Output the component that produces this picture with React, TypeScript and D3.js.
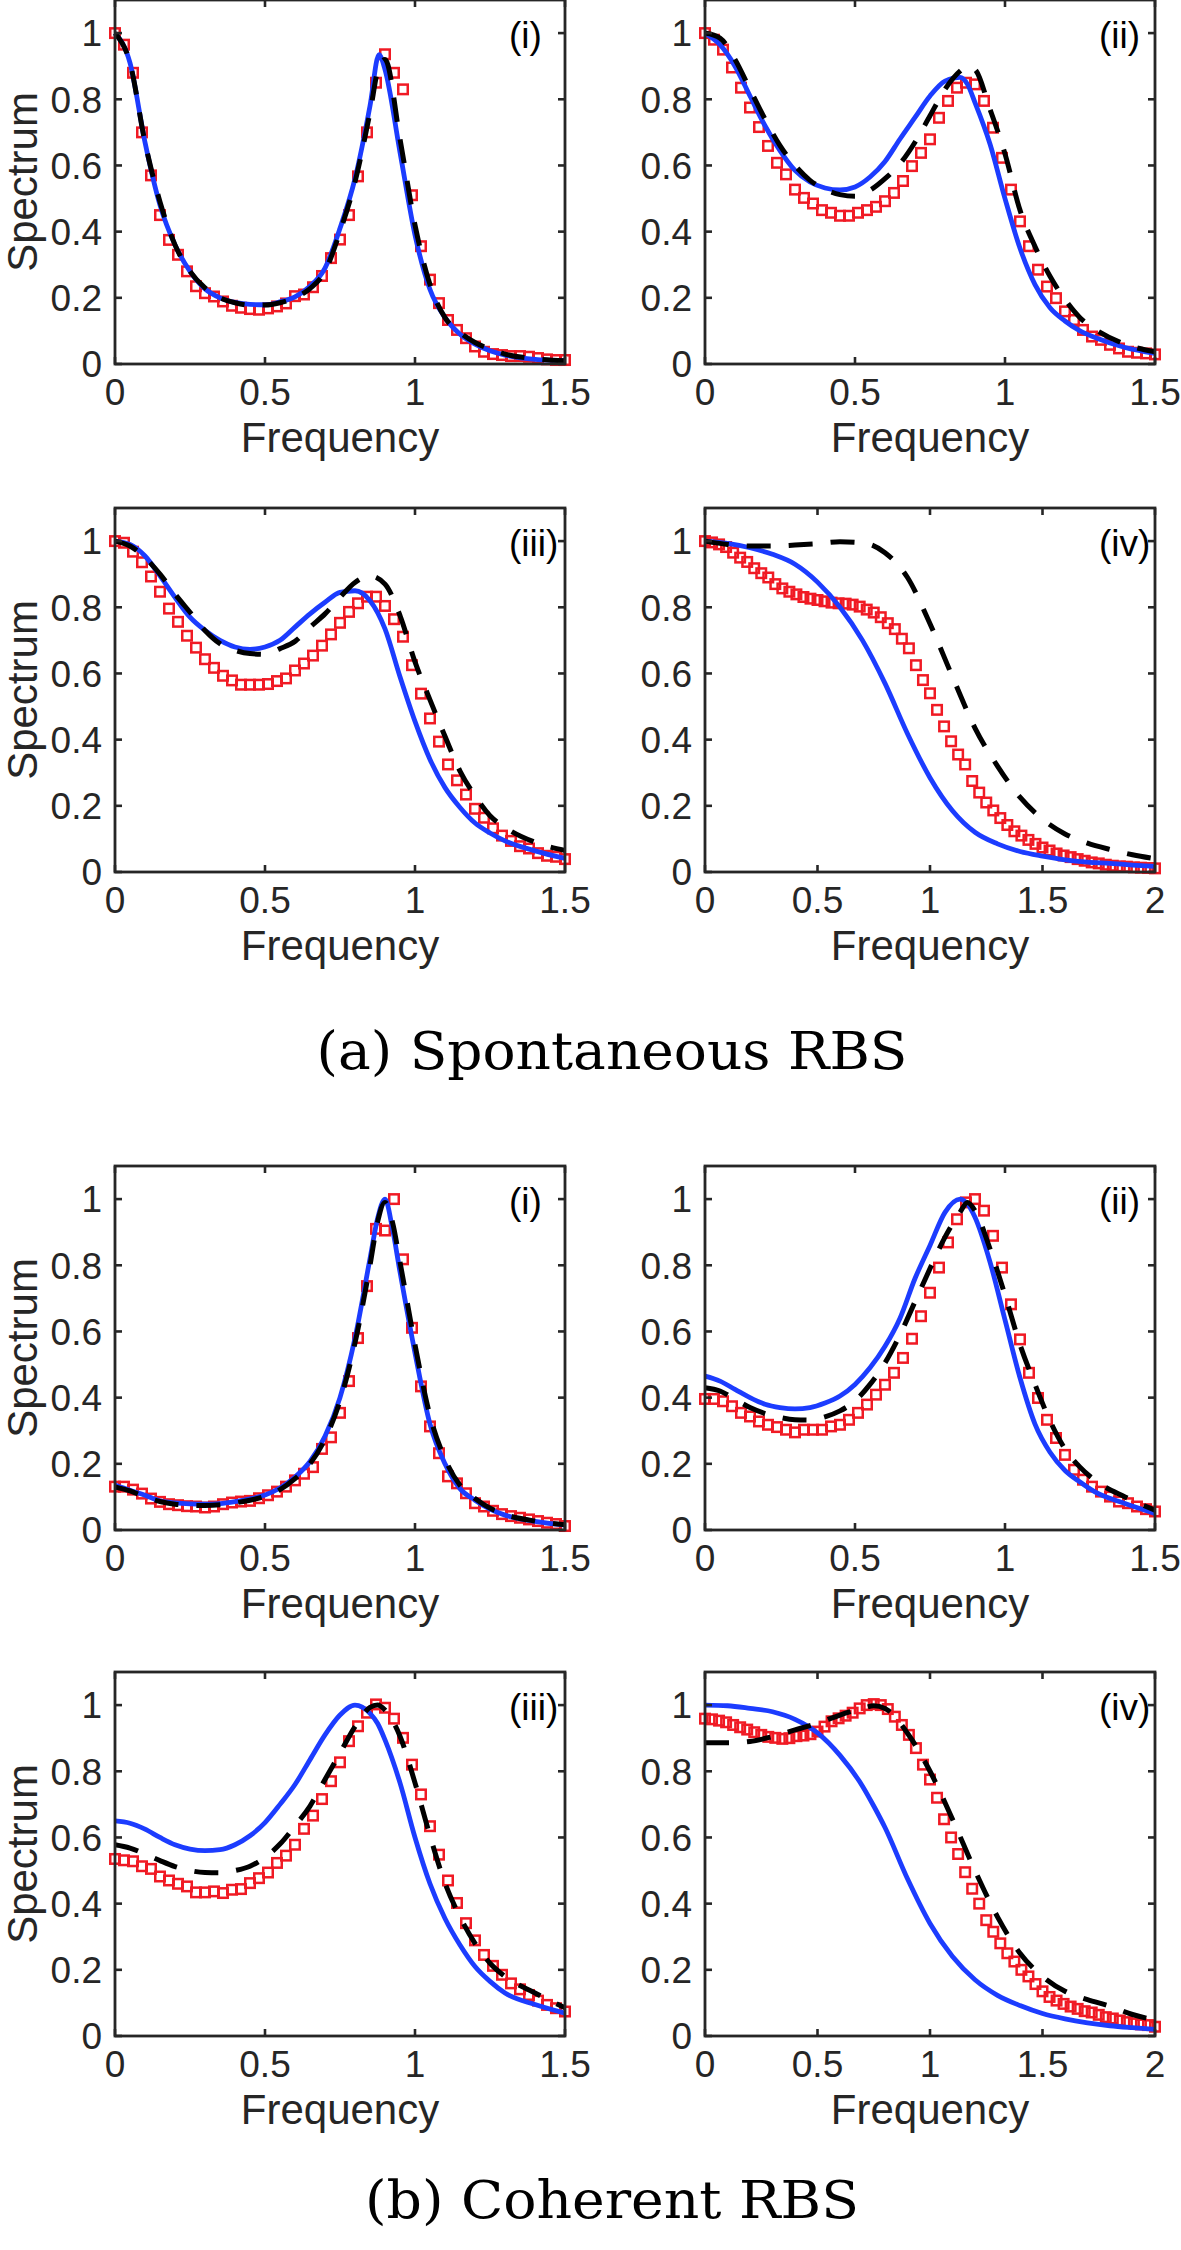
import React from 'react';
import * as d3 from 'd3';

// ---------- shared grids / ticks ----------
const squareFreq15 = d3.range(51).map((i) => +(i * 0.03).toFixed(2));
const squareFreq20 = d3.range(65).map((i) => i / 32);
const xTicks15 = [0, 0.5, 1, 1.5];
const xTicks20 = [0, 0.5, 1, 1.5, 2];
const yTicks = [0, 0.2, 0.4, 0.6, 0.8, 1];
const panelLabels = ['(i)', '(ii)', '(iii)', '(iv)'];
const captions = ['(a) Spontaneous RBS', '(b) Coherent RBS'];

// ---------- (a) Spontaneous RBS ----------
const freqA1 = [0, 0.05, 0.1, 0.15, 0.2, 0.25, 0.3, 0.35, 0.4, 0.45, 0.5, 0.55, 0.6, 0.65, 0.7, 0.75, 0.8, 0.85, 0.88, 0.9, 0.95, 1.0, 1.05, 1.1, 1.15, 1.2, 1.25, 1.3, 1.4, 1.5];
const blueA1 = [1.0, 0.91, 0.67, 0.48, 0.36, 0.28, 0.227, 0.2, 0.186, 0.18, 0.179, 0.188, 0.203, 0.235, 0.29, 0.41, 0.56, 0.78, 0.935, 0.89, 0.64, 0.39, 0.225, 0.14, 0.09, 0.06, 0.04, 0.027, 0.014, 0.01];
const blackA1 = [1.0, 0.91, 0.67, 0.49, 0.36, 0.28, 0.23, 0.2, 0.185, 0.178, 0.178, 0.185, 0.2, 0.228, 0.28, 0.4, 0.55, 0.76, 0.9, 0.92, 0.68, 0.42, 0.24, 0.14, 0.095, 0.065, 0.045, 0.03, 0.016, 0.01];
const redA1 = [1.0, 0.965, 0.88, 0.7, 0.57, 0.45, 0.375, 0.33, 0.28, 0.235, 0.214, 0.204, 0.189, 0.176, 0.17, 0.166, 0.164, 0.168, 0.174, 0.183, 0.205, 0.21, 0.232, 0.266, 0.32, 0.376, 0.45, 0.567, 0.7, 0.85, 0.936, 0.88, 0.83, 0.51, 0.356, 0.255, 0.184, 0.133, 0.103, 0.078, 0.053, 0.037, 0.03, 0.027, 0.024, 0.024, 0.022, 0.018, 0.014, 0.012, 0.012];

const freqA2 = [0, 0.05, 0.1, 0.15, 0.2, 0.25, 0.3, 0.35, 0.4, 0.45, 0.5, 0.55, 0.6, 0.65, 0.7, 0.75, 0.8, 0.85, 0.875, 0.9, 0.95, 1.0, 1.05, 1.1, 1.15, 1.2, 1.25, 1.3, 1.4, 1.5];
const blueA2 = [1.0, 0.965, 0.9, 0.81, 0.72, 0.645, 0.585, 0.55, 0.532, 0.526, 0.535, 0.565, 0.612, 0.68, 0.745, 0.81, 0.855, 0.866, 0.845, 0.79, 0.665, 0.5, 0.35, 0.24, 0.17, 0.13, 0.1, 0.08, 0.05, 0.032];
const blackA2 = [1.0, 0.985, 0.92, 0.83, 0.74, 0.66, 0.6, 0.555, 0.528, 0.512, 0.507, 0.525, 0.56, 0.605, 0.67, 0.75, 0.83, 0.885, 0.9, 0.89, 0.77, 0.635, 0.465, 0.355, 0.265, 0.195, 0.14, 0.105, 0.06, 0.037];
const redA2 = [1.0, 0.98, 0.95, 0.896, 0.835, 0.775, 0.716, 0.659, 0.608, 0.573, 0.527, 0.502, 0.485, 0.465, 0.457, 0.448, 0.448, 0.457, 0.465, 0.475, 0.492, 0.517, 0.553, 0.598, 0.638, 0.679, 0.744, 0.795, 0.835, 0.85, 0.845, 0.795, 0.714, 0.623, 0.527, 0.431, 0.356, 0.285, 0.234, 0.199, 0.159, 0.133, 0.103, 0.083, 0.073, 0.058, 0.047, 0.037, 0.034, 0.032, 0.029];

const freqA3 = [0, 0.05, 0.1, 0.15, 0.2, 0.25, 0.3, 0.35, 0.4, 0.45, 0.5, 0.55, 0.6, 0.65, 0.7, 0.75, 0.8, 0.85, 0.9, 0.95, 1.0, 1.05, 1.1, 1.15, 1.2, 1.25, 1.3, 1.4, 1.5];
const blueA3 = [1.0, 0.99, 0.955, 0.895, 0.83, 0.77, 0.73, 0.7, 0.68, 0.673, 0.68, 0.7, 0.74, 0.78, 0.815, 0.845, 0.85, 0.82, 0.735, 0.59, 0.455, 0.34, 0.255, 0.195, 0.148, 0.118, 0.094, 0.064, 0.041];
const blackA3 = [1.0, 0.985, 0.95, 0.9, 0.84, 0.785, 0.73, 0.69, 0.67, 0.66, 0.658, 0.675, 0.697, 0.74, 0.78, 0.83, 0.875, 0.895, 0.87, 0.775, 0.635, 0.52, 0.41, 0.305, 0.23, 0.17, 0.135, 0.09, 0.065];
const redA3 = [1.0, 0.995, 0.968, 0.936, 0.893, 0.847, 0.796, 0.756, 0.714, 0.678, 0.643, 0.617, 0.593, 0.579, 0.566, 0.566, 0.566, 0.568, 0.577, 0.585, 0.609, 0.63, 0.654, 0.684, 0.718, 0.753, 0.786, 0.812, 0.832, 0.832, 0.804, 0.764, 0.711, 0.625, 0.539, 0.464, 0.394, 0.325, 0.277, 0.234, 0.191, 0.164, 0.132, 0.11, 0.094, 0.078, 0.071, 0.057, 0.049, 0.046, 0.039];

const freqA4 = [0, 0.1, 0.2, 0.3, 0.4, 0.5, 0.6, 0.7, 0.8, 0.9, 1.0, 1.1, 1.2, 1.3, 1.4, 1.5, 1.6, 1.7, 1.8, 1.9, 2.0];
const blueA4 = [1.0, 0.993, 0.98, 0.96, 0.93, 0.876, 0.8, 0.7, 0.57, 0.418, 0.285, 0.185, 0.12, 0.085, 0.062, 0.048, 0.037, 0.03, 0.026, 0.021, 0.017];
const blackA4 = [1.0, 0.99, 0.985, 0.985, 0.988, 0.992, 0.998, 0.995, 0.965, 0.89, 0.75, 0.59, 0.435, 0.32, 0.226, 0.16, 0.115, 0.087, 0.068, 0.052, 0.04];
const redA4 = [1.0, 0.996, 0.99, 0.982, 0.965, 0.95, 0.937, 0.918, 0.903, 0.89, 0.87, 0.857, 0.847, 0.839, 0.831, 0.826, 0.822, 0.818, 0.814, 0.812, 0.811, 0.808, 0.802, 0.793, 0.784, 0.77, 0.752, 0.734, 0.705, 0.676, 0.625, 0.58, 0.54, 0.49, 0.44, 0.395, 0.355, 0.325, 0.275, 0.24, 0.21, 0.186, 0.163, 0.142, 0.123, 0.11, 0.097, 0.085, 0.074, 0.065, 0.056, 0.05, 0.045, 0.039, 0.034, 0.029, 0.026, 0.022, 0.019, 0.017, 0.016, 0.014, 0.013, 0.012, 0.011];

// ---------- (b) Coherent RBS ----------
const freqB1 = [0, 0.05, 0.1, 0.15, 0.2, 0.25, 0.3, 0.35, 0.4, 0.45, 0.5, 0.55, 0.6, 0.65, 0.7, 0.75, 0.8, 0.85, 0.875, 0.9, 0.925, 0.95, 1.0, 1.05, 1.1, 1.15, 1.2, 1.25, 1.3, 1.4, 1.5];
const blueB1 = [0.136, 0.12, 0.105, 0.088, 0.082, 0.079, 0.078, 0.08, 0.086, 0.094, 0.106, 0.127, 0.16, 0.207, 0.283, 0.4, 0.58, 0.82, 0.94, 1.0, 0.91, 0.78, 0.535, 0.32, 0.2, 0.125, 0.09, 0.063, 0.045, 0.026, 0.015];
const blackB1 = [0.13, 0.118, 0.1, 0.086, 0.078, 0.075, 0.074, 0.076, 0.082, 0.09, 0.102, 0.122, 0.155, 0.2, 0.275, 0.39, 0.565, 0.8, 0.93, 0.99, 0.93, 0.81, 0.56, 0.345, 0.215, 0.135, 0.095, 0.066, 0.047, 0.027, 0.016];
const redB1 = [0.131, 0.131, 0.122, 0.11, 0.095, 0.085, 0.078, 0.075, 0.072, 0.071, 0.068, 0.071, 0.078, 0.083, 0.086, 0.088, 0.096, 0.105, 0.116, 0.131, 0.15, 0.17, 0.19, 0.245, 0.28, 0.354, 0.45, 0.58, 0.737, 0.91, 0.905, 1.0, 0.818, 0.611, 0.434, 0.313, 0.232, 0.162, 0.141, 0.111, 0.081, 0.071, 0.058, 0.048, 0.042, 0.037, 0.032, 0.027, 0.022, 0.018, 0.012];

const freqB2 = [0, 0.05, 0.1, 0.15, 0.2, 0.25, 0.3, 0.35, 0.4, 0.45, 0.5, 0.55, 0.6, 0.65, 0.7, 0.75, 0.8, 0.85, 0.875, 0.9, 0.95, 1.0, 1.05, 1.1, 1.15, 1.2, 1.25, 1.3, 1.4, 1.5];
const blueB2 = [0.465, 0.45, 0.425, 0.4, 0.38, 0.37, 0.366, 0.37, 0.384, 0.405, 0.44, 0.49, 0.555, 0.64, 0.76, 0.86, 0.96, 1.0, 0.985, 0.945, 0.81, 0.635, 0.46, 0.32, 0.235, 0.18, 0.145, 0.115, 0.08, 0.05];
const blackB2 = [0.43, 0.42, 0.395, 0.37, 0.352, 0.34, 0.333, 0.332, 0.342, 0.36, 0.39, 0.44, 0.505, 0.59, 0.69, 0.79, 0.885, 0.96, 0.99, 0.965, 0.85, 0.71, 0.56, 0.44, 0.33, 0.245, 0.19, 0.15, 0.1, 0.06];
const redB2 = [0.396, 0.396, 0.389, 0.374, 0.354, 0.343, 0.328, 0.318, 0.311, 0.303, 0.295, 0.303, 0.303, 0.303, 0.313, 0.318, 0.333, 0.354, 0.379, 0.409, 0.439, 0.475, 0.52, 0.578, 0.646, 0.717, 0.793, 0.869, 0.939, 0.99, 1.0, 0.965, 0.889, 0.793, 0.682, 0.576, 0.475, 0.399, 0.333, 0.278, 0.227, 0.182, 0.152, 0.131, 0.116, 0.101, 0.086, 0.081, 0.071, 0.063, 0.056];

const freqB3 = [0, 0.05, 0.1, 0.15, 0.2, 0.25, 0.3, 0.35, 0.4, 0.45, 0.5, 0.55, 0.6, 0.65, 0.7, 0.75, 0.8, 0.85, 0.875, 0.9, 0.95, 1.0, 1.05, 1.1, 1.15, 1.2, 1.25, 1.3, 1.4, 1.5];
const blueB3 = [0.65, 0.643, 0.625, 0.6, 0.578, 0.565, 0.56, 0.563, 0.578, 0.605, 0.645, 0.7, 0.76, 0.835, 0.91, 0.97, 1.0, 0.975, 0.945, 0.895, 0.765, 0.6, 0.46, 0.355, 0.275, 0.21, 0.165, 0.13, 0.095, 0.069];
const blackB3 = [0.578, 0.568, 0.55, 0.53, 0.512, 0.5, 0.494, 0.493, 0.5, 0.513, 0.54, 0.58, 0.635, 0.695, 0.775, 0.855, 0.935, 0.993, 1.0, 0.985, 0.906, 0.765, 0.605, 0.462, 0.36, 0.28, 0.22, 0.18, 0.13, 0.085];
const redB3 = [0.535, 0.531, 0.528, 0.513, 0.505, 0.482, 0.47, 0.46, 0.452, 0.434, 0.434, 0.437, 0.432, 0.442, 0.444, 0.462, 0.477, 0.494, 0.523, 0.545, 0.578, 0.626, 0.666, 0.716, 0.77, 0.827, 0.891, 0.936, 0.977, 1.002, 0.992, 0.959, 0.901, 0.82, 0.73, 0.634, 0.548, 0.47, 0.402, 0.341, 0.289, 0.245, 0.212, 0.185, 0.159, 0.141, 0.124, 0.107, 0.094, 0.084, 0.074];

const freqB4 = [0, 0.1, 0.2, 0.3, 0.4, 0.5, 0.6, 0.7, 0.75, 0.8, 0.9, 1.0, 1.1, 1.2, 1.3, 1.4, 1.5, 1.6, 1.7, 1.8, 1.9, 2.0];
const blueB4 = [1.0, 0.998, 0.99, 0.98, 0.957, 0.916, 0.848, 0.755, 0.695, 0.63, 0.475, 0.34, 0.24, 0.17, 0.123, 0.092, 0.068, 0.052, 0.04, 0.031, 0.025, 0.02];
const blackB4 = [0.886, 0.886, 0.89, 0.905, 0.925, 0.945, 0.97, 0.99, 0.998, 0.99, 0.915, 0.8, 0.655, 0.5, 0.36, 0.25, 0.18, 0.135, 0.11, 0.09, 0.065, 0.048];
const redB4 = [0.959, 0.957, 0.953, 0.948, 0.94, 0.933, 0.926, 0.918, 0.91, 0.904, 0.901, 0.898, 0.9, 0.906, 0.908, 0.912, 0.92, 0.935, 0.951, 0.96, 0.968, 0.977, 0.99, 1.0, 1.003, 1.0, 0.988, 0.965, 0.94, 0.91, 0.87, 0.82, 0.775, 0.72, 0.655, 0.6, 0.55, 0.495, 0.445, 0.4, 0.35, 0.315, 0.28, 0.25, 0.225, 0.2, 0.18, 0.157, 0.135, 0.118, 0.107, 0.097, 0.089, 0.082, 0.075, 0.071, 0.064, 0.057, 0.053, 0.047, 0.042, 0.038, 0.035, 0.033, 0.028];

// ---------- panel table built from the arrays ----------
const panels = [
  { row: 0, col: 0, xMax: 1.5, ticks: xTicks15, cx: freqA1, blue: blueA1, black: blackA1, sx: squareFreq15, red: redA1 },
  { row: 0, col: 1, xMax: 1.5, ticks: xTicks15, cx: freqA2, blue: blueA2, black: blackA2, sx: squareFreq15, red: redA2 },
  { row: 1, col: 0, xMax: 1.5, ticks: xTicks15, cx: freqA3, blue: blueA3, black: blackA3, sx: squareFreq15, red: redA3 },
  { row: 1, col: 1, xMax: 2.0, ticks: xTicks20, cx: freqA4, blue: blueA4, black: blackA4, sx: squareFreq20, red: redA4 },
  { row: 2, col: 0, xMax: 1.5, ticks: xTicks15, cx: freqB1, blue: blueB1, black: blackB1, sx: squareFreq15, red: redB1 },
  { row: 2, col: 1, xMax: 1.5, ticks: xTicks15, cx: freqB2, blue: blueB2, black: blackB2, sx: squareFreq15, red: redB2 },
  { row: 3, col: 0, xMax: 1.5, ticks: xTicks15, cx: freqB3, blue: blueB3, black: blackB3, sx: squareFreq15, red: redB3 },
  { row: 3, col: 1, xMax: 2.0, ticks: xTicks20, cx: freqB4, blue: blueB4, black: blackB4, sx: squareFreq20, red: redB4 },
];

// ---------- layout ----------
const W = 1181;
const H = 2250;
const colLeft = [115, 705];
const plotW = 450;
const rowBottom = [364, 872, 1530, 2036];
const plotH = 364;
const AX = '#262626';
const SANS = '"Liberation Sans", Arial, Helvetica, sans-serif';
const SERIF = '"DejaVu Serif", "Liberation Serif", serif';
const BLUE = '#1c3cff';
const RED = '#f01a24';

function Panel({ p, idx }: { p: any; idx: number }) {
  const left = colLeft[p.col];
  const bottom = rowBottom[p.row];
  const x = d3.scaleLinear().domain([0, p.xMax]).range([left, left + plotW]);
  const y = d3.scaleLinear().domain([0, 1.1]).range([bottom, bottom - plotH]);
  const line = d3
    .line<number>()
    .x((_, i) => x(p.cx[i]))
    .y((d) => y(d))
    .curve(d3.curveMonotoneX);
  const tickLen = 7;
  const sq = 9.5;
  return (
    <g>
      {p.red.map((v: number, i: number) => (
        <rect
          key={i}
          x={x(p.sx[i]) - sq / 2}
          y={y(v) - sq / 2}
          width={sq}
          height={sq}
          fill="none"
          stroke={RED}
          strokeWidth={2.5}
        />
      ))}
      <path d={line(p.blue) || ''} fill="none" stroke={BLUE} strokeWidth={4.8} strokeLinejoin="round" />
      <path d={line(p.black) || ''} fill="none" stroke="#000" strokeWidth={5} strokeDasharray="24 18" />
      <rect x={left} y={bottom - plotH} width={plotW} height={plotH} fill="none" stroke={AX} strokeWidth={2.8} />
      {p.ticks.map((t: number) => (
        <g key={'xt' + t}>
          <line x1={x(t)} x2={x(t)} y1={bottom} y2={bottom - tickLen} stroke={AX} strokeWidth={2.6} />
          <line x1={x(t)} x2={x(t)} y1={bottom - plotH} y2={bottom - plotH + tickLen} stroke={AX} strokeWidth={2.6} />
          <text x={x(t)} y={bottom + 41} textAnchor="middle" fontFamily={SANS} fontSize={37} fill={AX}>
            {String(t)}
          </text>
        </g>
      ))}
      {yTicks.map((t) => (
        <g key={'yt' + t}>
          <line x1={left} x2={left + tickLen} y1={y(t)} y2={y(t)} stroke={AX} strokeWidth={2.6} />
          <line x1={left + plotW} x2={left + plotW - tickLen} y1={y(t)} y2={y(t)} stroke={AX} strokeWidth={2.6} />
          <text x={left - 13} y={y(t)} dy="0.36em" textAnchor="end" fontFamily={SANS} fontSize={37} fill={AX}>
            {String(t)}
          </text>
        </g>
      ))}
      <text x={left + plotW / 2} y={bottom + 88} textAnchor="middle" fontFamily={SANS} fontSize={42} fill={AX}>
        Frequency
      </text>
      {p.col === 0 && (
        <text
          transform={`translate(37, ${bottom - plotH / 2}) rotate(-90)`}
          textAnchor="middle"
          fontFamily={SANS}
          fontSize={42}
          fill={AX}
        >
          Spectrum
        </text>
      )}
      <text x={left + 394} y={y(1) + 2.5} dominantBaseline="central" fontFamily={SANS} fontSize={37} fill="#000">
        {panelLabels[idx % 4]}
      </text>
    </g>
  );
}

export default function App() {
  return (
    <svg
      width={W}
      height={H}
      viewBox={`0 0 ${W} ${H}`}
      style={{ position: 'absolute', left: 0, top: 0, background: '#fff' }}
    >
      <rect x={0} y={0} width={W} height={H} fill="#fff" />
      {panels.map((p, i) => (
        <Panel key={i} p={p} idx={i} />
      ))}
      <text x={612} y={1069} textAnchor="middle" fontFamily={SERIF} fontSize={53} fill="#000" textLength={591} lengthAdjust="spacingAndGlyphs">
        {captions[0]}
      </text>
      <text x={612} y={2218} textAnchor="middle" fontFamily={SERIF} fontSize={53} fill="#000" textLength={494} lengthAdjust="spacingAndGlyphs">
        {captions[1]}
      </text>
    </svg>
  );
}
